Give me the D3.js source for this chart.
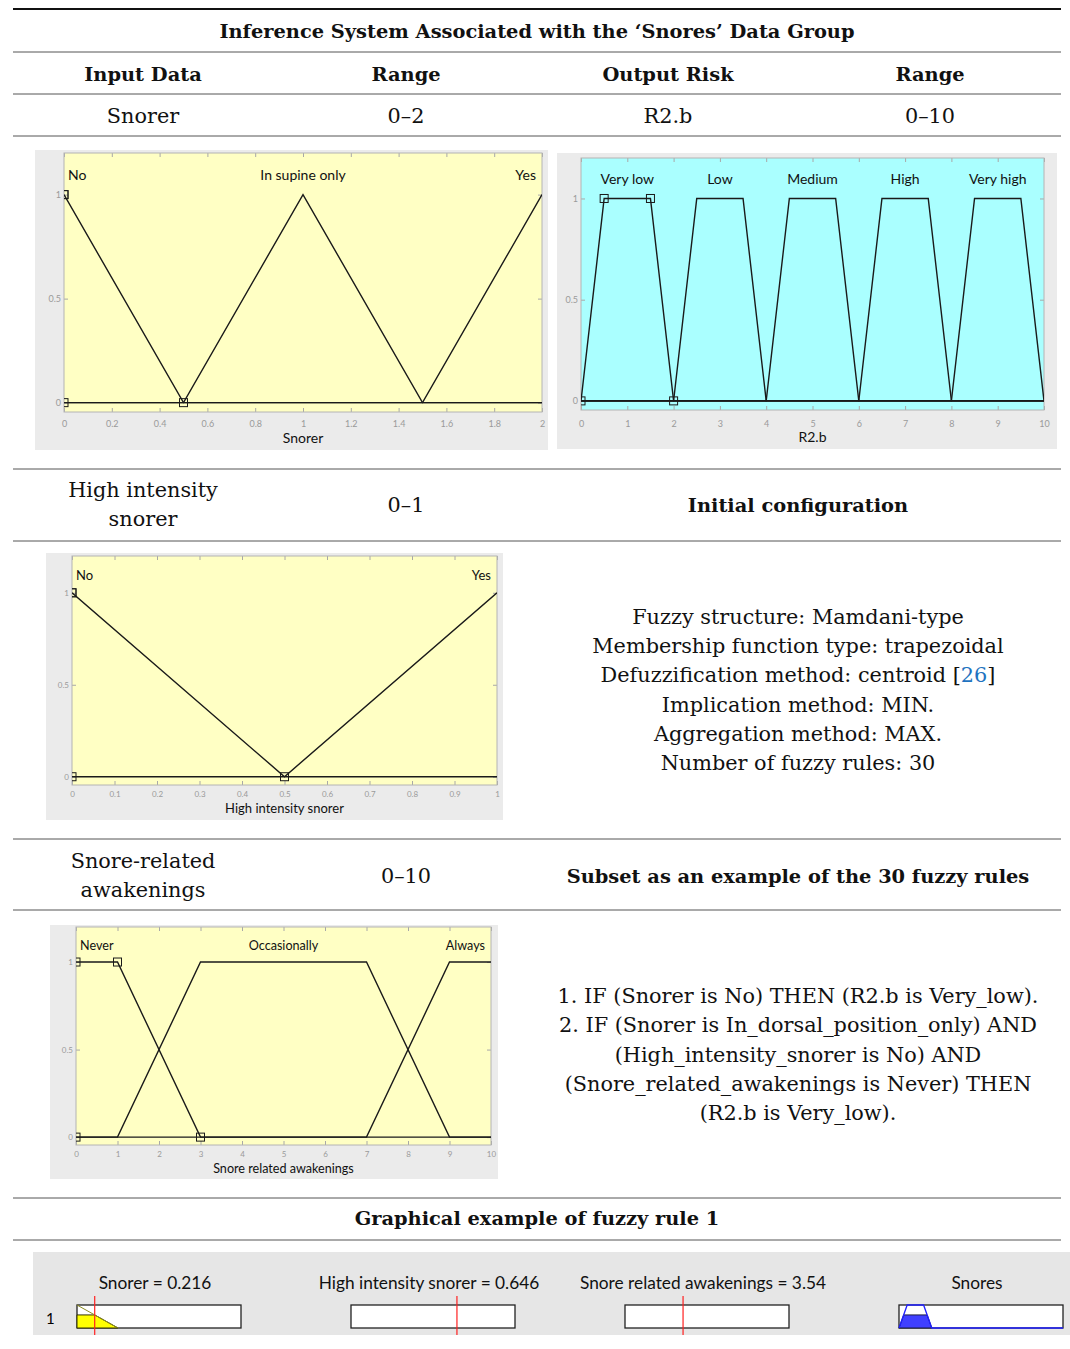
<!DOCTYPE html>
<html>
<head>
<meta charset="utf-8">
<script src="https://cdn.jsdelivr.net/npm/d3@7"></script>
<style>
  body { margin: 0; background: #fff; }
  .serif { font-family: "DejaVu Serif", serif; font-size: 20.8px; fill: #111; }
  .bold { font-weight: bold; font-size: 19.4px; }
  .mat { font-family: Lato, "Open Sans", sans-serif; }
</style>
</head>
<body>
<svg id="chart"></svg>
<script>
// ---------- data ----------
const tableTitle = "Inference System Associated with the \u2018Snores\u2019 Data Group";
const headerLabels = ["Input Data", "Range", "Output Risk", "Range"];
const firstRow = ["Snorer", "0\u20132", "R2.b", "0\u201310"];
const configLines = [
  "Fuzzy structure: Mamdani-type",
  "Membership function type: trapezoidal",
  "Defuzzification method: centroid [26]",
  "Implication method: MIN.",
  "Aggregation method: MAX.",
  "Number of fuzzy rules: 30"
];
const ruleLines = [
  "1. IF (Snorer is No) THEN (R2.b is Very_low).",
  "2. IF (Snorer is In_dorsal_position_only) AND",
  "(High_intensity_snorer is No) AND",
  "(Snore_related_awakenings is Never) THEN",
  "(R2.b is Very_low)."
];

// membership functions, [a, b, c, d] (trapezoid, b = c for triangles)
const snorerTerms = ["No", "In supine only", "Yes"];
const snorerParams = [[-0.5, 0, 0, 0.5], [0.5, 1, 1, 1.5], [1.5, 2, 2, 2.5]];
const snorerTicks = [0, 0.2, 0.4, 0.6, 0.8, 1, 1.2, 1.4, 1.6, 1.8, 2];

const riskTerms = ["Very low", "Low", "Medium", "High", "Very high"];
const riskParams = [[0, 0.5, 1.5, 2], [2, 2.5, 3.5, 4], [4, 4.5, 5.5, 6], [6, 6.5, 7.5, 8], [8, 8.5, 9.5, 10]];
const riskTicks = [0, 1, 2, 3, 4, 5, 6, 7, 8, 9, 10];

const intensityTerms = ["No", "Yes"];
const intensityParams = [[-0.5, 0, 0, 0.5], [0.5, 1, 1, 1.5]];
const intensityTicks = [0, 0.1, 0.2, 0.3, 0.4, 0.5, 0.6, 0.7, 0.8, 0.9, 1];

const awakeTerms = ["Never", "Occasionally", "Always"];
const awakeParams = [[-3.6, -0.4, 1, 3], [1, 3, 7, 9], [7, 9, 11, 13]];
const awakeTicks = [0, 1, 2, 3, 4, 5, 6, 7, 8, 9, 10];

const yTicks = [0, 0.5, 1];

// rule viewer (rule 1)
const viewerInputs = ["Snorer", "High intensity snorer", "Snore related awakenings"];
const viewerValues = [0.216, 0.646, 3.54];
const viewerDomains = [[0, 2], [0, 1], [0, 10]];
const viewerOutput = "Snores";

// ---------- setup ----------
const W = 1070, H = 1349;
const svg = d3.select("#chart").attr("width", W).attr("height", H);

function mfValue(p, v) {
  const [a, b, c, d] = p;
  if (v < a || v > d) return 0;
  if (v >= b && v <= c) return 1;
  if (v < b) return (v - a) / (b - a);
  return (d - v) / (d - c);
}
function mfPoints(p, dom) {
  const xs = [dom[0], ...p.filter(t => t > dom[0] && t < dom[1]), dom[1]];
  return xs.map(t => [t, mfValue(p, t)]);
}

// ---------- table ----------
function rule(y, w) {
  svg.append("line").attr("x1", 13).attr("x2", 1061).attr("y1", y).attr("y2", y)
    .attr("stroke", w > 1 ? "#111" : "#555").attr("stroke-width", w);
}
function txt(x, y, s, cls) {
  return svg.append("text").attr("class", "serif " + (cls || ""))
    .attr("x", x).attr("y", y).attr("text-anchor", "middle").text(s);
}
[[9, 2], [52, 1], [94, 1], [136, 1], [469, 1], [541, 1], [839, 1], [910, 1], [1198, 1], [1240, 1]]
  .forEach(d => rule(d[0], d[1]));

const colX = [143, 406, 668, 930];
txt(537, 38, tableTitle, "bold");
headerLabels.forEach((s, i) => txt(colX[i], 81, s, "bold"));
firstRow.forEach((s, i) => txt(colX[i], 123, s));

txt(colX[0], 497, "High intensity");
txt(colX[0], 526, "snorer");
txt(colX[1], 512, "0\u20131");
txt(798, 512, "Initial configuration", "bold");

configLines.forEach((s, i) => {
  const t = txt(798, 624 + i * 29.2, "");
  const m = s.match(/^(.*\[)(\d+)(\])$/);
  if (m) {
    t.append("tspan").text(m[1]);
    t.append("tspan").attr("fill", "#1f73c0").text(m[2]);
    t.append("tspan").text(m[3]);
  } else t.text(s);
});

txt(colX[0], 868, "Snore-related");
txt(colX[0], 897, "awakenings");
txt(colX[1], 883, "0\u201310");
txt(798, 883, "Subset as an example of the 30 fuzzy rules", "bold");

ruleLines.forEach((s, i) => txt(798, 1003 + i * 29.3, s));

txt(537, 1225, "Graphical example of fuzzy rule 1", "bold");

// ---------- MATLAB-style membership function plots ----------
let clipId = 0;
function mfPlot(o) {
  const g = svg.append("g");
  g.append("rect").attr("x", o.panel[0]).attr("y", o.panel[1])
    .attr("width", o.panel[2] - o.panel[0]).attr("height", o.panel[3] - o.panel[1])
    .attr("fill", "#ebebeb");

  const [x0, x1, yt, yb] = o.ax;
  const x = d3.scaleLinear().domain(o.domain).range([x0, x1]);
  const y = d3.scaleLinear().domain([-0.045, 1.2]).range([yb, yt]);

  g.append("rect").attr("x", x0).attr("y", yt).attr("width", x1 - x0).attr("height", yb - yt)
    .attr("fill", o.bg);

  const id = "clip" + (clipId++);
  g.append("clipPath").attr("id", id).append("rect")
    .attr("x", x0).attr("y", yt).attr("width", x1 - x0).attr("height", yb - yt);

  const fmt = d3.format("~g");
  const styleAxis = a => {
    a.select(".domain").remove();
    a.selectAll("line").attr("stroke", "#a8a8a8");
    a.selectAll("text").attr("fill", "#9a9a9a").style("font-family", "Lato, sans-serif").style("font-size", o.tickFs + "px");
  };
  g.append("g").attr("transform", `translate(0,${yb})`)
    .call(d3.axisBottom(x).tickValues(o.ticks).tickSize(-4).tickFormat(fmt).tickPadding(o.tickDy - 0.71 * o.tickFs))
    .call(styleAxis);
  g.append("g").attr("transform", `translate(0,${yt})`)
    .call(d3.axisTop(x).tickValues(o.ticks).tickSize(-4).tickFormat(""))
    .call(styleAxis);
  g.append("g").attr("transform", `translate(${x0},0)`)
    .call(d3.axisLeft(y).tickValues(yTicks).tickSize(-4).tickFormat(fmt).tickPadding(3))
    .call(styleAxis);
  g.append("g").attr("transform", `translate(${x1},0)`)
    .call(d3.axisRight(y).tickValues(yTicks).tickSize(-4).tickFormat(""))
    .call(styleAxis);

  g.append("rect").attr("x", x0).attr("y", yt).attr("width", x1 - x0).attr("height", yb - yt)
    .attr("fill", "none").attr("stroke", "#b4b4b4");

  const inner = g.append("g").attr("clip-path", `url(#${id})`);
  const line = d3.line().x(d => x(d[0])).y(d => y(d[1]));
  inner.selectAll("path.mf").data(o.params).enter().append("path")
    .attr("class", "mf")
    .attr("d", p => line(mfPoints(p, o.domain)))
    .attr("fill", "none").attr("stroke", "#1a1a1a").attr("stroke-width", 1.4);

  // selected MF markers
  const clamp = v => Math.max(o.domain[0], Math.min(o.domain[1], v));
  const marks = o.params[0].map((t, i) => [clamp(t), (i === 1 || i === 2) ? 1 : 0]);
  inner.selectAll("rect.mk").data(marks).enter().append("rect")
    .attr("class", "mk")
    .attr("x", d => x(d[0]) - 4).attr("y", d => y(d[1]) - 4)
    .attr("width", 8).attr("height", 8)
    .attr("fill", "none").attr("stroke", "#1a1a1a").attr("stroke-width", 1);

  // term labels
  o.terms.forEach((s, i) => {
    const p = o.params[i];
    const t = g.append("text").attr("class", "mat").style("font-size", o.labelFs + "px")
      .attr("fill", "#111").attr("y", y(1.07)).text(s);
    const w = t.node().getComputedTextLength();
    let cx = x((p[1] + p[2]) / 2);
    cx = Math.max(x0 + 4 + w / 2, Math.min(x1 - 6 - w / 2, cx));
    t.attr("x", cx).attr("text-anchor", "middle");
  });

  g.append("text").attr("class", "mat").style("font-size", o.labelFs + "px")
    .attr("fill", "#111").attr("text-anchor", "middle")
    .attr("x", (x0 + x1) / 2).attr("y", yb + o.labelDy).text(o.xlabel);
}

mfPlot({ panel: [35, 150, 548, 450], ax: [64, 542, 153, 412], domain: [0, 2], bg: "#ffffc4",
  terms: snorerTerms, params: snorerParams, ticks: snorerTicks, xlabel: "Snorer",
  tickFs: 9, tickDy: 15, labelFs: 14, labelDy: 31 });
mfPlot({ panel: [557, 153, 1057, 449], ax: [581, 1044, 158, 410], domain: [0, 10], bg: "#aaffff",
  terms: riskTerms, params: riskParams, ticks: riskTicks, xlabel: "R2.b",
  tickFs: 9, tickDy: 17, labelFs: 14, labelDy: 32 });
mfPlot({ panel: [46, 553, 503, 820], ax: [72, 497, 556, 785], domain: [0, 1], bg: "#ffffc4",
  terms: intensityTerms, params: intensityParams, ticks: intensityTicks, xlabel: "High intensity snorer",
  tickFs: 8, tickDy: 12, labelFs: 13, labelDy: 28 });
mfPlot({ panel: [50, 925, 498, 1179], ax: [76, 491, 927, 1145], domain: [0, 10], bg: "#ffffc4",
  terms: awakeTerms, params: awakeParams, ticks: awakeTicks, xlabel: "Snore related awakenings",
  tickFs: 8, tickDy: 12, labelFs: 12.6, labelDy: 28 });

// ---------- rule viewer ----------
const rv = svg.append("g");
rv.append("rect").attr("x", 33).attr("y", 1252).attr("width", 1037).attr("height", 83).attr("fill", "#e6e6e6");
rv.append("text").attr("class", "mat").style("font-size", "15px").attr("x", 46).attr("y", 1324).text("1");

const boxX = [77, 351, 625, 899], boxW = 164, boxT = 1305, boxB = 1328;
const by = d3.scaleLinear().domain([0, 1]).range([boxB, boxT]);

// firing strength of rule 1: Snorer is No
const fire = mfValue(snorerParams[0], viewerValues[0]);

viewerInputs.forEach((name, i) => {
  const bx = d3.scaleLinear().domain(viewerDomains[i]).range([boxX[i], boxX[i] + boxW]);
  rv.append("text").attr("class", "mat").style("font-size", "17.3px").attr("fill", "#111")
    .attr("text-anchor", "middle").attr("x", boxX[i] + boxW / 2 - 4).attr("y", 1289)
    .text(`${name} = ${viewerValues[i]}`);
  rv.append("rect").attr("x", boxX[i]).attr("y", boxT).attr("width", boxW).attr("height", boxB - boxT)
    .attr("fill", "#fff").attr("stroke", "#222").attr("stroke-width", 1.3);
  if (i === 0) {
    const p = snorerParams[0];
    const ln = d3.line().x(d => bx(d[0])).y(d => by(d[1]));
    const full = [[viewerDomains[0][0], 0], [viewerDomains[0][0], fire], [viewerValues[0], fire], [p[3], 0]];
    rv.append("path").attr("d", ln(full) + "Z")
      .attr("fill", "#ffff00").attr("stroke", "#333300").attr("stroke-width", 1);
    rv.append("path").attr("d", ln(mfPoints(p, [0, p[3]])))
      .attr("fill", "none").attr("stroke", "#8c8c20").attr("stroke-width", 1);
  }
  rv.append("line").attr("x1", bx(viewerValues[i])).attr("x2", bx(viewerValues[i]))
    .attr("y1", 1296).attr("y2", 1335).attr("stroke", "#ff2020").attr("stroke-width", 1.2);
});

// output: R2.b is Very low, clipped at firing strength
{
  const ox = d3.scaleLinear().domain([0, 10]).range([boxX[3], boxX[3] + boxW]);
  const p = riskParams[0];
  rv.append("text").attr("class", "mat").style("font-size", "17.3px").attr("fill", "#111")
    .attr("text-anchor", "middle").attr("x", boxX[3] + boxW / 2 - 4).attr("y", 1289).text(viewerOutput);
  rv.append("rect").attr("x", boxX[3]).attr("y", boxT).attr("width", boxW).attr("height", boxB - boxT)
    .attr("fill", "#fff").attr("stroke", "#222").attr("stroke-width", 1.3);
  const clipped = [[p[0], 0], [p[0] + (p[1] - p[0]) * fire, fire], [p[3] - (p[3] - p[2]) * fire, fire], [p[3], 0]];
  const ol = d3.line().x(d => ox(d[0])).y(d => by(d[1]));
  rv.append("path").attr("d", ol(clipped) + "Z").attr("fill", "#4040ff").attr("stroke", "#1a1a40").attr("stroke-width", 1);
  rv.append("path").attr("d", ol(mfPoints(p, [0, 10])))
    .attr("fill", "none").attr("stroke", "#2020ff").attr("stroke-width", 1.3);
}
</script>
</body>
</html>
